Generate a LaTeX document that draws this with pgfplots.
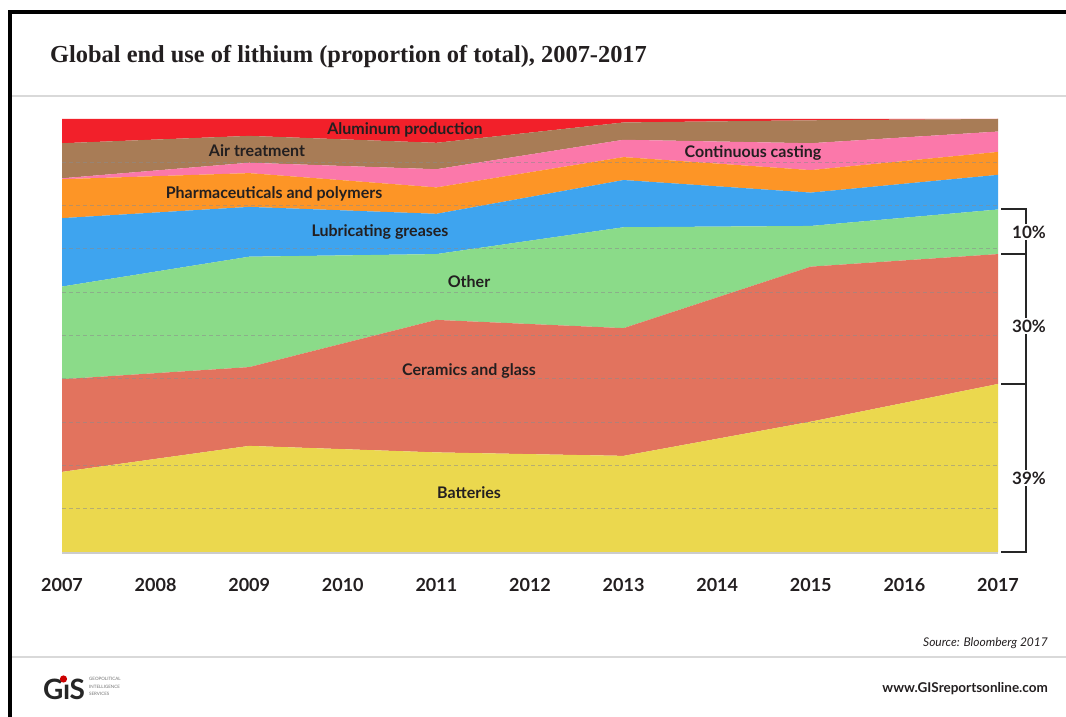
\documentclass[border=0pt]{standalone}
\usepackage{fontspec}
\setmainfont{Lato}
\newfontfamily\titlefont{Liberation Serif}
\usepackage{pgfplots}
\usepackage{pgfplotstable}
\pgfplotsset{compat=1.18}

\definecolor{cBat}{HTML}{EBD84E}
\definecolor{cCer}{HTML}{E2735E}
\definecolor{cOth}{HTML}{8BDB89}
\definecolor{cLub}{HTML}{3EA4EF}
\definecolor{cPha}{HTML}{FD9526}
\definecolor{cCas}{HTML}{FB78AA}
\definecolor{cAir}{HTML}{A87C56}
\definecolor{cAlu}{HTML}{F2202A}
\definecolor{txt}{HTML}{231F20}

\pgfplotstableread{
year bat cer oth lub pha cas air alu
2007 18.5 21.4 21.4 15.8 9.0 0.2 8.1 5.6
2009 24.5 18.2 25.5 11.5 7.8 2.4 6.2 3.9
2011 23.0 30.6 15.2 9.3 6.1 4.2 6.1 5.5
2013 22.2 29.5 23.3 10.9 5.3 4.0 4.0 0.8
2015 30.1 35.8 9.4 7.7 5.2 6.2 5.3 0.3
2017 38.8 30.0 10.3 8.0 5.3 4.7 2.9 0.0
}\lithium

\begin{document}
\begin{tikzpicture}
\begin{scope}[x=1pt,y=1pt]
\useasboundingbox (0,0) rectangle (1066,717);
\fill[white] (0,0) rectangle (1066,717);
% frame
\draw[line width=4pt, black] (9.5,-2) -- (9.5,705) -- (1068,705);
\draw[black!15, line width=1.5pt] (12,621) -- (1066,621);
\draw[black!15, line width=1.5pt] (12,60) -- (1066,60);
% title
\node[anchor=base west, inner sep=0pt, text=txt, font=\titlefont\bfseries\fontsize{24.4}{30}\selectfont] at (50,654) {Global end use of lithium (proportion of total), 2007-2017};
\end{scope}

\begin{axis}[
  at={(62pt,165pt)}, anchor=south west,
  scale only axis, width=936pt, height=433pt,
  xmin=2007, xmax=2017, ymin=0, ymax=100,
  stack plots=y, area style,
  axis line style={draw=none},
  axis on top,
  xtick={2007,2008,2009,2010,2011,2012,2013,2014,2015,2016,2017},
  xticklabels={2007,2008,2009,2010,2011,2012,2013,2014,2015,2016,2017},
  ytick={10,20,30,40,50,60,70,80,90}, yticklabels={},
  ymajorgrids,
  major grid style={draw=black!45, opacity=0.55, dash pattern=on 4pt off 3pt, line width=0.9pt},
  major tick length=0pt,
  xticklabel style={font=\bfseries\fontsize{18}{20}\selectfont, text=txt, anchor=base, yshift=-40pt},
  clip=false,
]
\addplot[fill=cBat, draw=none] table[x=year,y=bat]{\lithium} \closedcycle;
\addplot[fill=cCer, draw=none] table[x=year,y=cer]{\lithium} \closedcycle;
\addplot[fill=cOth, draw=none] table[x=year,y=oth]{\lithium} \closedcycle;
\addplot[fill=cLub, draw=none] table[x=year,y=lub]{\lithium} \closedcycle;
\addplot[fill=cPha, draw=none] table[x=year,y=pha]{\lithium} \closedcycle;
\addplot[fill=cCas, draw=none] table[x=year,y=cas]{\lithium} \closedcycle;
\addplot[fill=cAir, draw=none] table[x=year,y=air]{\lithium} \closedcycle;
\addplot[fill=cAlu, draw=none] table[x=year,y=alu]{\lithium} \closedcycle;
\end{axis}

\begin{scope}[x=1pt,y=1pt]
% bottom line of the plot
\draw[black!20, line width=2pt] (62,164) -- (998,164);
% brackets
\draw[black!85, line width=2pt] (1001,507.5) -- (1026,507.5) -- (1026,165) -- (1001,165);
\draw[black!85, line width=2pt] (1001,462.9) -- (1026,462.9);
\draw[black!85, line width=2pt] (1001,333.0) -- (1026,333.0);
\begin{scope}[every node/.style={fill=white, inner sep=2pt, text=txt, font=\bfseries\fontsize{17}{20}\selectfont}]
\node at (1029,485) {10\%};
\node at (1029,391) {30\%};
\node at (1029,239) {39\%};
\end{scope}

% area labels
\begin{scope}[every node/.style={inner sep=0pt, text=txt, font=\bfseries\fontsize{16}{18}\selectfont}]
\node at (405,587) {Aluminum production};
\node at (257,566) {Air treatment};
\node at (274,523) {Pharmaceuticals and polymers};
\node at (380,485) {Lubricating greases};
\node at (753,564) {Continuous casting};
\node at (469,435) {Other};
\node at (469,346) {Ceramics and glass};
\node at (469,224) {Batteries};
\end{scope}

% source and footer
\node[anchor=east, inner sep=0pt, text=txt, font=\itshape\fontsize{12}{14}\selectfont] at (1048,74) {Source: Bloomberg 2017};
\node[anchor=east, inner sep=0pt, text=txt, font=\bfseries\fontsize{13.5}{15}\selectfont] at (1048,28) {www.GISreportsonline.com};

% logo
\node[anchor=base west, inner sep=0pt, text=black!85, font=\bfseries\fontsize{28}{28}\selectfont] at (43,17) {G\kern-0.5ptı\kern-0.5ptS};
\fill[red!80!black] (63.5,38) circle (3.6);
\begin{scope}[every node/.style={anchor=base west, inner sep=0pt, text=black!55, font=\fontsize{4.5}{5}\selectfont}]
\node at (89,36) {GEOPOLITICAL};
\node at (89,28.5) {INTELLIGENCE};
\node at (89,21) {SERVICES};
\end{scope}
\end{scope}
\end{tikzpicture}
\end{document}
